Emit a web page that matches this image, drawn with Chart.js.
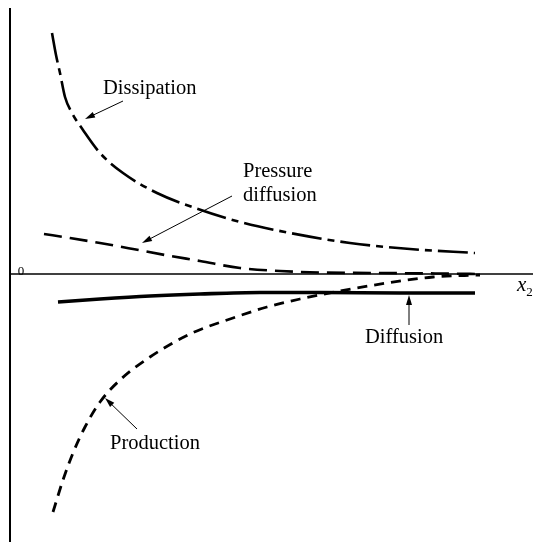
<!DOCTYPE html>
<html>
<head>
<meta charset="utf-8">
<script src="https://cdn.jsdelivr.net/npm/chart.js@4/dist/chart.umd.min.js"></script>
<style>
  html, body { margin: 0; padding: 0; background: #fff; }
  #wrap { position: relative; width: 535px; height: 542px; }
</style>
</head>
<body>
<div id="wrap"><canvas id="c"></canvas></div>
<script>
// Turbulent kinetic energy budget terms across the layer (x2 = wall distance)
const dissipationX = [0.84, 0.92, 1.00, 1.10, 1.24, 1.46, 1.80, 2.26, 2.94, 3.70, 4.60, 5.60, 6.80, 8.00, 9.30];
const dissipationY = [4.82, 4.38, 4.02, 3.54, 3.22, 2.88, 2.42, 2.02, 1.62, 1.32, 1.04, 0.82, 0.62, 0.50, 0.42];

const pressureX = [0.68, 1.20, 1.80, 2.46, 3.10, 3.80, 4.60, 5.40, 6.20, 7.40, 8.60, 9.40];
const pressureY = [0.80, 0.72, 0.62, 0.50, 0.38, 0.26, 0.12, 0.06, 0.03, 0.02, 0.01, 0.00];

const diffusionX = [0.96, 1.80, 2.80, 3.80, 5.00, 6.20, 7.80, 9.30];
const diffusionY = [-0.56, -0.50, -0.44, -0.40, -0.37, -0.37, -0.38, -0.38];

const productionX = [0.86, 1.06, 1.26, 1.50, 1.80, 2.20, 2.80, 3.60, 4.46, 5.14, 5.80, 6.60, 7.54, 8.46, 9.40];
const productionY = [-4.76, -4.12, -3.58, -3.06, -2.56, -2.12, -1.66, -1.20, -0.88, -0.66, -0.50, -0.34, -0.18, -0.06, -0.02];

const seriesNames = ['Dissipation', 'Pressure diffusion', 'Diffusion', 'Production'];

const toPoints = (xs, ys) => xs.map((x, i) => ({ x: x, y: ys[i] }));

// Callout labels and leader arrows, placed in data units
const labels = [
  { lines: ['Dissipation'], x: 1.86, y: 3.60 },
  { lines: ['Pressure', 'diffusion'], x: 4.66, y: 1.94 },
  { lines: ['Diffusion'], x: 7.10, y: -1.38 },
  { lines: ['Production'], x: 2.00, y: -3.50 }
];
const arrows = [
  { from: [2.26, 3.46], to: [1.50, 3.10] },
  { from: [4.44, 1.56], to: [2.64, 0.62] },
  { from: [7.98, -1.02], to: [7.98, -0.42] },
  { from: [2.54, -3.10], to: [1.90, -2.48] }
];

const FONT = '"Liberation Serif", "DejaVu Serif", serif';

const axesAndNotes = {
  id: 'axesAndNotes',
  afterDatasetsDraw(chart) {
    const ctx = chart.ctx;
    const xs = chart.scales.x, ys = chart.scales.y;
    const px = v => xs.getPixelForValue(v);
    const py = v => ys.getPixelForValue(v);
    ctx.save();
    ctx.strokeStyle = '#000';
    ctx.fillStyle = '#000';

    // ordinate
    ctx.lineWidth = 2;
    ctx.beginPath();
    ctx.moveTo(px(0), py(5.32));
    ctx.lineTo(px(0), py(ys.min));
    ctx.stroke();
    // abscissa
    ctx.lineWidth = 1.6;
    ctx.beginPath();
    ctx.moveTo(px(0), py(0));
    ctx.lineTo(px(10.46), py(0));
    ctx.stroke();

    // axis captions
    ctx.textBaseline = 'alphabetic';
    ctx.font = 'italic 21px ' + FONT;
    ctx.fillText('x', px(10.14), py(-0.34));
    const xw = ctx.measureText('x').width;
    ctx.font = '13px ' + FONT;
    ctx.fillText('2', px(10.14) + xw, py(-0.34) + 5);
    ctx.font = '13px ' + FONT;
    ctx.textAlign = 'center';
    ctx.fillText('0', px(0.22), py(0.0) + 1);
    ctx.textAlign = 'left';

    // callouts
    ctx.font = '20.5px ' + FONT;
    labels.forEach(l => {
      l.lines.forEach((t, i) => ctx.fillText(t, px(l.x), py(l.y) + i * 24));
    });

    // leader arrows
    ctx.lineWidth = 1;
    arrows.forEach(a => {
      const x1 = px(a.from[0]), y1 = py(a.from[1]);
      const x2 = px(a.to[0]), y2 = py(a.to[1]);
      const ang = Math.atan2(y2 - y1, x2 - x1);
      const len = 10, half = 3;
      ctx.beginPath();
      ctx.moveTo(x1, y1);
      ctx.lineTo(x2 - Math.cos(ang) * len * 0.8, y2 - Math.sin(ang) * len * 0.8);
      ctx.stroke();
      ctx.beginPath();
      ctx.moveTo(x2, y2);
      ctx.lineTo(x2 - Math.cos(ang) * len - Math.sin(ang) * half, y2 - Math.sin(ang) * len + Math.cos(ang) * half);
      ctx.lineTo(x2 - Math.cos(ang) * len + Math.sin(ang) * half, y2 - Math.sin(ang) * len - Math.cos(ang) * half);
      ctx.closePath();
      ctx.fill();
    });
    ctx.restore();
  }
};

const lineStyle = (label, data, width, dash) => ({
  label: label,
  data: data,
  borderColor: '#000',
  borderWidth: width,
  borderDash: dash,
  borderCapStyle: 'butt',
  pointRadius: 0,
  fill: false,
  cubicInterpolationMode: 'monotone',
  clip: false
});

new Chart(document.getElementById('c'), {
  type: 'line',
  data: {
    datasets: [
      lineStyle(seriesNames[0], toPoints(dissipationX, dissipationY), 2.6, [30, 6, 7, 6]),
      lineStyle(seriesNames[1], toPoints(pressureX, pressureY), 2.6, [18, 8]),
      lineStyle(seriesNames[2], toPoints(diffusionX, diffusionY), 3.6, []),
      lineStyle(seriesNames[3], toPoints(productionX, productionY), 2.8, [10, 7])
    ]
  },
  options: {
    responsive: true,
    maintainAspectRatio: false,
    animation: false,
    layout: { padding: 0 },
    plugins: { legend: { display: false }, tooltip: { enabled: false } },
    scales: {
      x: { type: 'linear', min: -0.2, max: 10.5, display: false },
      y: { type: 'linear', min: -5.36, max: 5.48, display: false }
    }
  },
  plugins: [axesAndNotes]
});
</script>
</body>
</html>
